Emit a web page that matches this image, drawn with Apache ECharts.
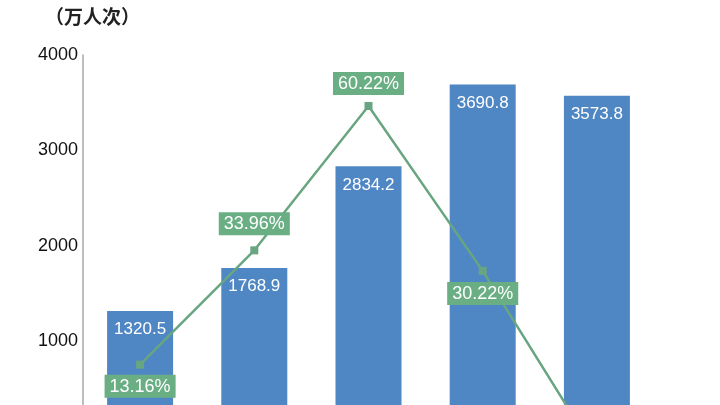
<!DOCTYPE html>
<html><head><meta charset="utf-8">
<script src="https://cdn.jsdelivr.net/npm/echarts@6/dist/echarts.min.js"></script>
<style>html,body{margin:0;padding:0;background:#fff}#c{width:720px;height:405px}</style>
</head><body><div id="c"></div>
<script>
var categories = ['2017', '2018', '2019', '2020', '2021'];
var visitors = [1320.5, 1768.9, 2834.2, 3690.8, 3573.8];
var growth = [13.16, 33.96, 60.22, 30.22, -3.17];
var growthLabelPos = ['bottom', 'top', 'top', 'bottom', 'bottom'];
var growthLabelDist = [6, 11, 7, 7, 7];
var yTicks = [0, 1000, 2000, 3000, 4000];

var chart = echarts.init(document.getElementById('c'));
chart.setOption({
  animation: false,
  title: {
    text: '（万人次）', left: 40, top: 2,
    textStyle: {fontFamily: 'Noto Sans CJK SC', fontSize: 19, fontWeight: 'bold', color: '#222'}
  },
  grid: {left: 83, right: 66, top: 55, height: 382, outerBoundsMode: 'none', containLabel: false},
  xAxis: {
    type: 'category', data: categories,
    axisLine: {show: false}, axisTick: {show: false},
    axisLabel: {color: '#222', fontSize: 16}
  },
  yAxis: [{
    type: 'value', min: yTicks[0], max: yTicks[yTicks.length - 1], interval: 1000,
    splitLine: {show: false},
    axisLine: {show: true, lineStyle: {color: '#a8a8a8', width: 1.5}},
    axisTick: {show: false},
    axisLabel: {color: '#111', fontSize: 18, fontFamily: 'Liberation Sans', margin: 5,
      formatter: function (v) { return String(v); }}
  }, {
    type: 'value', min: 0, max: 69.5, show: false, splitLine: {show: false}
  }],
  series: [{
    type: 'bar', data: visitors, barWidth: 66,
    itemStyle: {color: '#4f86c4'},
    label: {
      show: true, position: 'insideTop', distance: 10, color: '#fff',
      fontSize: 17, fontFamily: 'Liberation Sans'
    }
  }, {
    type: 'line', yAxisIndex: 1, clip: false,
    data: growth.map(function (v, i) {
      return {value: v, label: {position: growthLabelPos[i], distance: growthLabelDist[i]}};
    }),
    symbol: 'rect', symbolSize: 8,
    lineStyle: {color: '#68a581', width: 2.5},
    itemStyle: {color: '#68a581'},
    label: {
      show: true, color: '#fff', fontSize: 18, fontFamily: 'Liberation Sans',
      backgroundColor: '#6aae84', padding: [3, 5, 2, 5],
      formatter: function (p) { return p.value.toFixed(2) + '%'; }
    }
  }]
});
</script></body></html>
